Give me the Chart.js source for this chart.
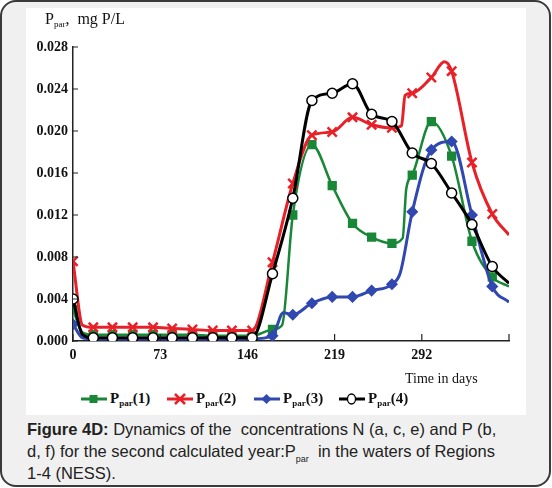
<!DOCTYPE html>
<html>
<head>
<meta charset="utf-8">
<script src="https://cdn.jsdelivr.net/npm/chart.js@4.4.1/dist/chart.umd.min.js"></script>
<style>
body{margin:0;width:552px;height:488px;background:#fff;position:relative;overflow:hidden}
#card{position:absolute;left:0;top:0;width:551px;height:487px;border:2px solid #3a3a3a;border-radius:16px;background:#f0f0f0;box-sizing:border-box}
#panel{position:absolute;left:26px;top:8px;width:500px;height:407px;background:#fff}
#chartBox{position:absolute;left:26px;top:8px;width:500px;height:372px}
.serif{font-family:"Liberation Serif","Times New Roman",serif;color:#111}
#ytitle{position:absolute;left:45px;top:10px;font-size:16px}
#ytitle sub,.leg sub{font-size:9px;vertical-align:-3px}
#xtitle{position:absolute;left:405px;top:371px;font-size:14px}
.leg{position:absolute;top:390px;font-size:15px;font-weight:bold;display:flex;align-items:center;white-space:nowrap}
.leg svg{margin-right:2px}
#caption{position:absolute;left:27px;top:418px;font-family:"Liberation Sans",Arial,sans-serif;font-size:16.5px;line-height:22px;color:#222}
#caption sub{font-size:9px;vertical-align:-5px;line-height:0}
</style>
</head>
<body>
<div id="card"></div>
<div id="panel"></div>
<div id="chartBox"><canvas id="pparChart"></canvas></div>
<div id="ytitle" class="serif">P<sub>par</sub>, &nbsp;mg P/L</div>
<div id="xtitle" class="serif">Time in days</div>
<div id="legend"></div>
<div id="caption"><b>Figure 4D:</b> Dynamics of the &nbsp;concentrations N (a, c, e) and P (b,<br>d, f) for the second calculated year:P<sub>par</sub> &nbsp;in the waters of Regions<br>1-4 (NESS).</div>
<script>
// days where the original figure puts a marker
const markerDays = [0,17,33,50,67,83,100,117,133,150,167,184,200,217,234,250,267,284,300,317,334,351]

const xTicks = [0,73,146,219,292,365]
const yTicks = [0,0.004,0.008,0.012,0.016,0.020,0.024,0.028]

const daysP1 = [0,8,17,33,50,67,83,100,117,133,150,167,175,184,200,217,234,250,267,276,279,284,300,317,334,351,365]
const valsP1 = [0.003,0.0008,0.0006,0.0006,0.0006,0.0006,0.0006,0.0006,0.0005,0.0005,0.0005,0.0011,0.0015,0.012,0.0187,0.0148,0.0112,0.0099,0.0093,0.0098,0.0145,0.0158,0.0209,0.0176,0.0095,0.0061,0.0052]

const daysP2 = [0,8,17,33,50,67,83,100,117,133,150,167,184,200,217,234,250,267,275,278,284,300,311,317,334,351,365]
const valsP2 = [0.0076,0.0015,0.0013,0.0013,0.0013,0.0013,0.0012,0.0011,0.001,0.001,0.001,0.0075,0.015,0.0196,0.0199,0.0213,0.0206,0.0203,0.0205,0.0234,0.0236,0.0251,0.0266,0.0257,0.017,0.0121,0.0101]

const daysP3 = [0,8,17,33,50,67,83,100,117,133,150,167,176,184,200,217,234,250,267,274,284,300,317,334,351,365]
const valsP3 = [0.0016,0.0003,0.0002,0.0002,0.0002,0.0002,0.0002,0.0002,0.0002,0.0002,0.0002,0.0005,0.0027,0.0025,0.0036,0.0042,0.0042,0.0048,0.0054,0.0065,0.0123,0.0182,0.019,0.012,0.0052,0.0037]

const daysP4 = [0,8,17,33,50,67,83,100,117,133,150,167,184,200,217,234,250,267,284,300,317,334,351,365]
const valsP4 = [0.004,0.0006,0.0003,0.0003,0.0003,0.0003,0.0003,0.0003,0.0003,0.0003,0.0003,0.0064,0.0136,0.0229,0.0236,0.0245,0.0216,0.0209,0.0179,0.0169,0.0141,0.0111,0.0071,0.0055]

const labels = ['Ppar(1)','Ppar(2)','Ppar(3)','Ppar(4)']
const legendNums = ['1','2','3','4']

const green = 'rgb(24,135,55)'
const red = 'rgb(232,32,40)'
const blue = 'rgb(48,72,175)'
const black = 'rgb(0,0,0)'

function toPoints(days, vals){
    return days.map((d,i)=>({x:d, y:vals[i]}))
}

function markerRadius(r){
    return ctx => markerDays.includes(ctx.raw.x) ? r : 0
}

function makeSet(label, days, vals, color, style, r, fill, order, width){
    return {
        label: label,
        data: toPoints(days, vals),
        borderColor: color,
        backgroundColor: fill,
        borderWidth: width,
        pointStyle: style,
        pointRadius: markerRadius(r),
        pointBorderColor: color,
        pointBackgroundColor: fill,
        pointBorderWidth: style === 'crossRot' ? 2.5 : 1.5,
        cubicInterpolationMode: 'monotone',
        order: order
    }
}

const datasets = [
    makeSet(labels[0], daysP1, valsP1, green, 'rect', 5.5, green, 4, 2.5),
    makeSet(labels[1], daysP2, valsP2, red, 'crossRot', 6.5, red, 2, 3),
    makeSet(labels[2], daysP3, valsP3, blue, 'rectRot', 5, blue, 3, 3),
    makeSet(labels[3], daysP4, valsP4, black, 'circle', 5, '#fff', 1, 3)
]

// ticks in the original point into the plot area
const inwardTicks = {
    id: 'inwardTicks',
    afterDraw(chart){
        const c = chart.ctx
        const xs = chart.scales.x
        const ys = chart.scales.y
        c.save()
        c.strokeStyle = '#222'
        c.lineWidth = 1.2
        c.beginPath()
        xTicks.forEach(v=>{
            const px = xs.getPixelForValue(v)
            c.moveTo(px, ys.bottom)
            c.lineTo(px, ys.bottom - 7)
        })
        yTicks.forEach(v=>{
            const py = ys.getPixelForValue(v)
            c.moveTo(xs.left, py)
            c.lineTo(xs.left + 5, py)
        })
        c.stroke()
        c.restore()
    }
}

const tickFont = {family: '"Liberation Serif", "Times New Roman", serif', size: 14, weight: 'bold'}

const config = {
    type: 'line',
    data: {datasets: datasets},
    options: {
        responsive: true,
        maintainAspectRatio: false,
        animation: false,
        layout: {padding: {top: 39, right: 17, left: 0, bottom: 0}},
        plugins: {
            legend: {display: false},
            tooltip: {enabled: false}
        },
        scales: {
            x: {
                type: 'linear',
                min: 0,
                max: 365,
                afterBuildTicks: axis => { axis.ticks = xTicks.map(v=>({value:v})) },
                afterFit: axis => { axis.height = 39 },
                grid: {display: false, drawTicks: false},
                border: {display: true, color: '#222', width: 1.5},
                ticks: {
                    color: '#111',
                    font: tickFont,
                    padding: 6,
                    maxRotation: 0,
                    autoSkip: false,
                    callback: v => v === 365 ? '' : String(v)
                }
            },
            y: {
                min: 0,
                max: 0.028,
                afterBuildTicks: axis => { axis.ticks = yTicks.map(v=>({value:v})) },
                afterFit: axis => { axis.width = 47 },
                grid: {display: false, drawTicks: false},
                border: {display: true, color: '#222', width: 1.5},
                ticks: {
                    color: '#111',
                    font: tickFont,
                    padding: 5,
                    callback: v => v.toFixed(3)
                }
            }
        }
    },
    plugins: [inwardTicks]
}

const myChart = new Chart(document.getElementById('pparChart'), config)

// legend with subscripts, built as html
function legendIcon(set){
    const st = set.pointStyle
    const col = set.borderColor
    let mark = ''
    if (st === 'rect') mark = `<rect x="9.5" y="3" width="8" height="8" fill="${col}"/>`
    if (st === 'crossRot') mark = `<path d="M9 2 L19 12 M19 2 L9 12" stroke="${col}" stroke-width="2.5"/>`
    if (st === 'rectRot') mark = `<path d="M13.5 2 L18.5 7 L13.5 12 L8.5 7 Z" fill="${col}"/>`
    if (st === 'circle') mark = `<ellipse cx="13.5" cy="7" rx="4" ry="5" fill="#fff" stroke="${col}" stroke-width="1.3"/>`
    return `<svg width="28" height="14"><line x1="1" y1="7" x2="27" y2="7" stroke="${col}" stroke-width="3"/>${mark}</svg>`
}

const legendLeft = [80, 166, 253, 338]
const legendBox = document.getElementById('legend')
datasets.forEach((set,i)=>{
    const item = document.createElement('div')
    item.className = 'leg serif'
    item.style.left = legendLeft[i] + 'px'
    item.innerHTML = legendIcon(set) + `<span>P<sub>par</sub>(${legendNums[i]})</span>`
    legendBox.appendChild(item)
})
</script>
</body>
</html>
